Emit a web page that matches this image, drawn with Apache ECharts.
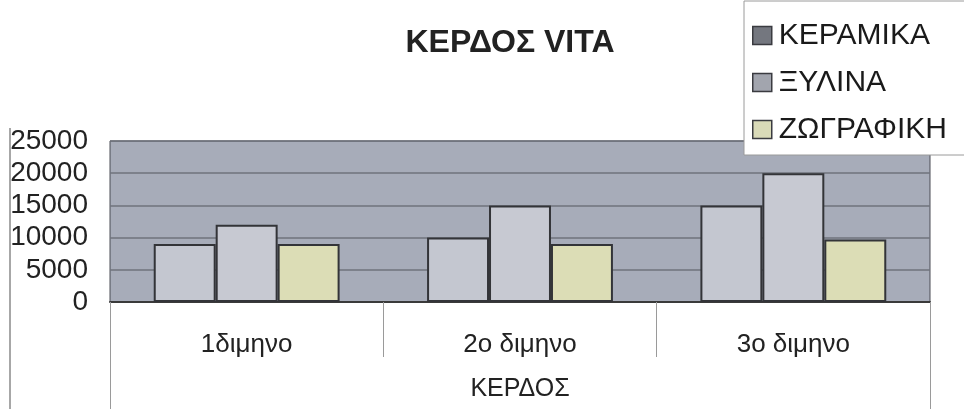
<!DOCTYPE html>
<html>
<head>
<meta charset="utf-8">
<script src="https://cdn.jsdelivr.net/npm/echarts@6/dist/echarts.min.js"></script>
<style>html,body{margin:0;padding:0;background:#fff}#c{width:964px;height:409px}</style>
</head>
<body>
<div id="c"></div>
<script>
var categories = ['1διμηνο', '2ο διμηνο', '3ο διμηνο'];
var seriesNames = ['ΚΕΡΑΜΙΚΑ', 'ΞΥΛΙΝΑ', 'ΖΩΓΡΑΦΙΚΗ'];
var keramika = [9000, 10000, 15000];
var xylina = [12000, 15000, 20000];
var zografiki = [9000, 9000, 9700];
var yTicks = [0, 5000, 10000, 15000, 20000, 25000];
var groupLabel = ['ΚΕΡΔΟΣ'];

var font = '"Liberation Sans", Arial, sans-serif';
var colors = ['#c4c7d0', '#c7c9d2', '#dcddb6'];
var iconColors = ['#74777f', '#a2a5ae', '#d9dab8'];
var values = [keramika, xylina, zografiki];

var chart = echarts.init(document.getElementById('c'));
chart.setOption({
  animation: false,
  title: {
    text: 'ΚΕΡΔΟΣ VITA',
    left: 505, top: 22, textAlign: 'center',
    textStyle: { fontFamily: font, fontSize: 32, fontWeight: 'bold', color: '#222' }
  },
  legend: {
    orient: 'vertical',
    left: 744, top: 1,
    padding: [19, 60, 10, 8],
    itemGap: 16,
    itemWidth: 19, itemHeight: 18,
    icon: 'rect',
    backgroundColor: '#fff',
    borderColor: '#9a9a9a', borderWidth: 1,
    textStyle: { fontFamily: font, fontSize: 30, color: '#1a1a1a', lineHeight: 31, padding: [0, 0, 0, 2] },
    data: seriesNames.map(function (n, i) {
      return { name: n, itemStyle: { color: iconColors[i], borderColor: '#3a3b40', borderWidth: 1.5 } };
    })
  },
  graphic: [{
    type: 'line', shape: { x1: 10, y1: 128, x2: 10, y2: 409 },
    style: { stroke: '#8a8a8a', lineWidth: 1.5 }
  }],
  grid: {
    left: 110, right: 34, top: 141, bottom: 107,
    show: true,
    backgroundColor: '#a7acb9',
    borderColor: '#4a4d55', borderWidth: 1
  },
  xAxis: [{
    type: 'category',
    data: categories,
    axisLine: { show: true, lineStyle: { color: '#3a3a3a', width: 2 } },
    axisTick: { show: true, length: 55, lineStyle: { color: '#9a9a9a', width: 1 } },
    axisLabel: { margin: 30, fontFamily: font, fontSize: 26, color: '#222' }
  }, {
    type: 'category',
    data: groupLabel,
    position: 'bottom',
    offset: 55,
    axisLine: { show: false },
    axisTick: { show: true, length: 60, lineStyle: { color: '#9a9a9a', width: 1 } },
    axisLabel: { margin: 20, fontFamily: font, fontSize: 25, color: '#222' }
  }],
  yAxis: {
    type: 'value',
    min: yTicks[0], max: yTicks[yTicks.length - 1], interval: yTicks[1] - yTicks[0],
    axisLine: { show: false },
    axisTick: { show: false },
    splitLine: { show: true, lineStyle: { color: '#6f737c', width: 1.5 } },
    axisLabel: {
      margin: 22, fontFamily: font, fontSize: 28, color: '#222',
      formatter: function (v) { return String(v); }
    }
  },
  series: seriesNames.map(function (n, i) {
    return {
      name: n,
      type: 'bar',
      xAxisIndex: 0,
      data: values[i],
      barGap: '0%',
      barCategoryGap: '32%',
      itemStyle: { color: colors[i], borderColor: '#333438', borderWidth: 2 }
    };
  })
});
</script>
</body>
</html>
